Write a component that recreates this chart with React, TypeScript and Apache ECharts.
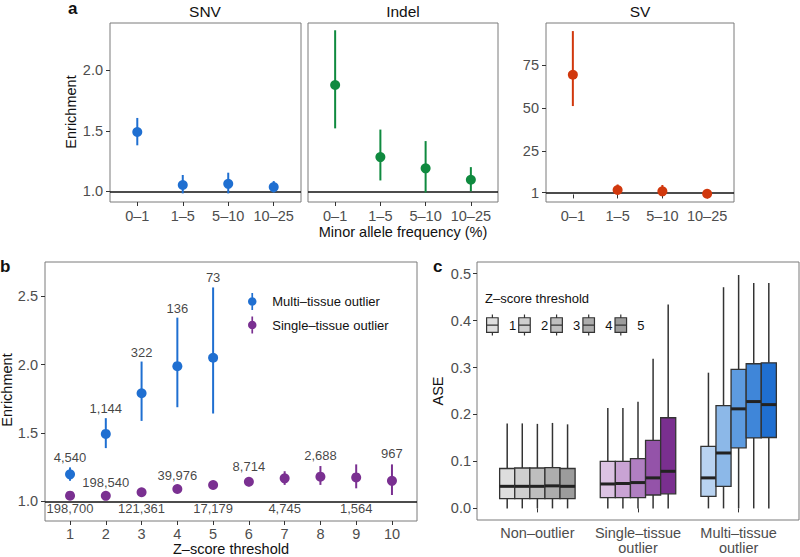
import React, { useEffect, useRef } from "react";
import * as echarts from "echarts";

// ---------- Panel a data ----------
const mafCats = ["0–1", "1–5", "5–10", "10–25"];
const snvEst = [1.49, 1.052, 1.062, 1.035];
const snvLo = [1.38, 0.983, 0.983, 0.99];
const snvHi = [1.606, 1.135, 1.154, 1.085];
const indelEst = [1.878, 1.283, 1.19, 1.096];
const indelLo = [1.52, 1.09, 0.99, 1.0];
const indelHi = [2.33, 1.51, 1.415, 1.2];
const svEst = [69.6, 2.6, 1.8, 0.4];
const svLo = [51.4, 0.8, 0.5, -0.3];
const svHi = [95, 5.8, 5.5, 1.0];
const aTicksLeft = [1.0, 1.5, 2.0];
const aTicksSV = [1, 25, 50, 75];

// ---------- Panel b data ----------
const zThresholds = [1, 2, 3, 4, 5, 6, 7, 8, 9, 10];
const multiX = [1, 2, 3, 4, 5];
const multiEst = [1.197, 1.493, 1.79, 1.988, 2.05];
const multiLo = [1.15, 1.389, 1.588, 1.688, 1.642];
const multiHi = [1.248, 1.608, 2.022, 2.343, 2.564];
const multiCounts = ["4,540", "1,144", "322", "136", "73"];
const singleEst = [1.041, 1.04, 1.066, 1.09, 1.119, 1.143, 1.168, 1.18, 1.175, 1.15];
const singleLo = [1.02, 1.02, 1.05, 1.07, 1.1, 1.11, 1.12, 1.12, 1.095, 1.046];
const singleHi = [1.06, 1.06, 1.085, 1.11, 1.14, 1.175, 1.22, 1.258, 1.27, 1.27];
const singleCounts = ["198,700", "198,540", "121,361", "39,976", "17,179", "8,714", "4,745", "2,688", "1,564", "967"];
const bTicksY = [1.0, 1.5, 2.0, 2.5];

// ---------- Panel c data ----------
const aseGroups = ["Non–outlier", "Single–tissue\noutlier", "Multi–tissue\noutlier"];
const aseThresholds = ["1", "2", "3", "4", "5"];
// each: [whiskerLow, q1, median, q3, whiskerHigh] for thresholds 1..5
const nonOutlierBoxes = [
  [0, 0.021, 0.047, 0.085, 0.181],
  [0, 0.021, 0.047, 0.086, 0.181],
  [0, 0.021, 0.047, 0.086, 0.18],
  [0, 0.021, 0.048, 0.087, 0.182],
  [0, 0.021, 0.047, 0.085, 0.179],
];
const singleTissueBoxes = [
  [0, 0.023, 0.052, 0.1, 0.214],
  [0, 0.023, 0.053, 0.1, 0.214],
  [0, 0.023, 0.055, 0.106, 0.227],
  [0, 0.0285, 0.065, 0.145, 0.3185],
  [0, 0.031, 0.079, 0.193, 0.434],
];
const multiTissueBoxes = [
  [0, 0.0256, 0.065, 0.132, 0.289],
  [0, 0.047, 0.118, 0.219, 0.471],
  [0, 0.129, 0.212, 0.296, 0.497],
  [0, 0.15, 0.2275, 0.308, 0.48],
  [0, 0.151, 0.221, 0.31, 0.48],
];
const cTicksY = [0, 0.1, 0.2, 0.3, 0.4, 0.5];

// ---------- styles ----------
const FONT = "Liberation Sans, Arial, Helvetica, sans-serif";
const BLUE = "#1f6fd1";
const GREEN = "#0f8a3f";
const RED = "#d1380d";
const PURPLE = "#7a3091";
const GREYS = ["#dedede", "#cfcfcf", "#bebebe", "#adadad", "#9c9c9c"];
const PURPLES = ["#dcc3e3", "#c9a3d4", "#b07fc1", "#9453a9", "#7a2f8f"];
const BLUES = ["#b9d3f1", "#8cb8e8", "#5d9be0", "#3f86d9", "#1f6fd1"];
const GROUP_COLORS = [GREYS, PURPLES, BLUES];
const TICK_COLOR = "#4d4d4d";
const BORDER = "#7a7a7a";

const POINTRANGE_ICON = "path://M4,0L6,0L6,20L4,20ZM10,10A5,5,0,1,1,0,10A5,5,0,1,1,10,10Z";
const BOX_ICON = "path://M5.5,0L5.5,3M0,3L11,3L11,17L0,17ZM0,10L11,10M5.5,17L5.5,20";

function errorSeries(xi: number, yi: number, xs: number[], lo: number[], hi: number[], color: string) {
  return {
    type: "custom",
    xAxisIndex: xi,
    yAxisIndex: yi,
    silent: true,
    data: xs.map((x, i) => [x, lo[i], hi[i]]),
    encode: { x: 0, y: [1, 2] },
    renderItem: (params: any, api: any) => {
      const a = api.coord([api.value(0), api.value(1)]);
      const b = api.coord([api.value(0), api.value(2)]);
      return {
        type: "line",
        shape: { x1: a[0], y1: a[1], x2: b[0], y2: b[1] },
        style: { stroke: color, lineWidth: 2 },
      };
    },
    z: 3,
  };
}

function pointSeries(name: string | undefined, xi: number, yi: number, xs: number[], ys: number[], color: string, hline: boolean) {
  const s: any = {
    type: "scatter",
    xAxisIndex: xi,
    yAxisIndex: yi,
    symbol: "circle",
    symbolSize: 10,
    itemStyle: { color, opacity: 1 },
    data: xs.map((x, i) => [x, ys[i]]),
    z: 4,
    silent: true,
  };
  if (name) s.name = name;
  if (hline) {
    s.markLine = {
      silent: true,
      symbol: ["none", "none"],
      label: { show: false },
      lineStyle: { color: "#111", width: 1.5, type: "solid" },
      data: [{ yAxis: 1 }],
      z: 2,
    };
  }
  return s;
}

function labelSeries(xi: number, yi: number, pts: number[][], texts: string[], position: string, distance: number) {
  return {
    type: "scatter",
    xAxisIndex: xi,
    yAxisIndex: yi,
    symbolSize: 0,
    silent: true,
    data: pts,
    label: {
      show: true,
      position,
      distance,
      formatter: (p: any) => texts[p.dataIndex],
      fontFamily: FONT,
      fontSize: 13,
      color: "#111",
    },
    z: 5,
  };
}

function boxSeries(k: number) {
  const groups = [nonOutlierBoxes, singleTissueBoxes, multiTissueBoxes];
  return {
    type: "custom",
    name: aseThresholds[k],
    xAxisIndex: 4,
    yAxisIndex: 4,
    silent: true,
    itemStyle: { color: GREYS[k] },
    data: groups.map((g, gi) => [gi + 1, ...g[k]]),
    encode: { x: 0, y: [1, 2, 3, 4, 5] },
    renderItem: (params: any, api: any) => {
      const gi = api.value(0) - 1;
      const x = api.value(0) + (k - 2) * 0.15;
      const w = api.size([0.15, 0])[0];
      const pLo = api.coord([x, api.value(1)]);
      const pQ1 = api.coord([x, api.value(2)]);
      const pMed = api.coord([x, api.value(3)]);
      const pQ3 = api.coord([x, api.value(4)]);
      const pHi = api.coord([x, api.value(5)]);
      const cx = pQ1[0];
      const left = cx - w / 2;
      const stroke = "#333333";
      return {
        type: "group",
        children: [
          { type: "line", shape: { x1: cx, y1: pLo[1], x2: cx, y2: pQ1[1] }, style: { stroke, lineWidth: 1.5 } },
          { type: "line", shape: { x1: cx, y1: pQ3[1], x2: cx, y2: pHi[1] }, style: { stroke, lineWidth: 1.5 } },
          {
            type: "rect",
            shape: { x: left, y: pQ3[1], width: w, height: pQ1[1] - pQ3[1] },
            style: { fill: GROUP_COLORS[gi][k], stroke, lineWidth: 1.3 },
          },
          { type: "line", shape: { x1: left, y1: pMed[1], x2: left + w, y2: pMed[1] }, style: { stroke: "#222", lineWidth: 3 } },
        ],
      };
    },
    z: 3,
  };
}

const tickLabel = (extra: any = {}) => ({
  fontFamily: FONT,
  fontSize: 14.5,
  color: TICK_COLOR,
  ...extra,
});

function text(t: string, x: number, y: number, size: number, extra: any = {}) {
  return {
    type: "text",
    x,
    y,
    silent: true,
    ...extra,
    style: {
      text: t,
      fontFamily: FONT,
      fontSize: size,
      fill: "#111",
      textAlign: "center",
      textVerticalAlign: "middle",
      ...(extra.style || {}),
    },
  };
}

export default function App() {
  const ref = useRef<HTMLDivElement>(null);

  useEffect(() => {
    if (!ref.current) return;
    const chart = echarts.init(ref.current, undefined, { renderer: "svg" });
    const idx = mafCats.map((_, i) => i + 1);

    const gridBase = { show: true, borderColor: BORDER, borderWidth: 1, backgroundColor: "transparent", containLabel: false };
    const grids = [
      { ...gridBase, left: 110, top: 23, width: 191, height: 179 },
      { ...gridBase, left: 308, top: 23, width: 190, height: 179 },
      { ...gridBase, left: 546, top: 23, width: 188, height: 179 },
      { ...gridBase, left: 45, top: 262, width: 372, height: 259 },
      { ...gridBase, left: 477, top: 262, width: 322, height: 258 },
    ];

    const mafX = (gi: number) => ({
      type: "value",
      gridIndex: gi,
      min: 0.4,
      max: 4.6,
      axisLine: { show: false },
      splitLine: { show: false },
      axisTick: { show: true, length: 4, lineStyle: { color: "#333" }, customValues: idx },
      axisLabel: tickLabel({ margin: 6, customValues: idx, formatter: (v: number) => mafCats[Math.round(v) - 1] ?? "" }),
    });

    const option: any = {
      animation: false,
      textStyle: { fontFamily: FONT },
      grid: grids,
      xAxis: [
        mafX(0),
        mafX(1),
        mafX(2),
        {
          type: "value",
          gridIndex: 3,
          min: 0.3,
          max: 10.7,
          axisLine: { show: false },
          splitLine: { show: false },
          axisTick: { show: true, length: 4, lineStyle: { color: "#333" }, customValues: zThresholds },
          axisLabel: tickLabel({ margin: 5, customValues: zThresholds, formatter: (v: number) => String(v) }),
        },
        {
          type: "value",
          gridIndex: 4,
          min: 0.4,
          max: 3.6,
          axisLine: { show: false },
          splitLine: { show: false },
          axisTick: { show: true, length: 4, lineStyle: { color: "#333" }, customValues: [1, 2, 3] },
          axisLabel: tickLabel({
            margin: 5,
            lineHeight: 15.5,
            customValues: [1, 2, 3],
            formatter: (v: number) => aseGroups[Math.round(v) - 1] ?? "",
          }),
        },
      ],
      yAxis: [
        {
          type: "value",
          gridIndex: 0,
          min: 0.912,
          max: 2.39,
          axisLine: { show: false },
          splitLine: { show: false },
          axisTick: { show: true, length: 4, lineStyle: { color: "#333" }, customValues: aTicksLeft },
          axisLabel: tickLabel({ margin: 7, customValues: aTicksLeft, formatter: (v: number) => v.toFixed(1) }),
        },
        {
          type: "value",
          gridIndex: 1,
          min: 0.912,
          max: 2.39,
          axisLine: { show: false },
          splitLine: { show: false },
          axisTick: { show: false },
          axisLabel: { show: false },
        },
        {
          type: "value",
          gridIndex: 2,
          min: -4.4,
          max: 99.7,
          axisLine: { show: false },
          splitLine: { show: false },
          axisTick: { show: true, length: 4, lineStyle: { color: "#333" }, customValues: aTicksSV },
          axisLabel: tickLabel({ margin: 7, customValues: aTicksSV, formatter: (v: number) => String(v) }),
        },
        {
          type: "value",
          gridIndex: 3,
          min: 0.856,
          max: 2.75,
          axisLine: { show: false },
          splitLine: { show: false },
          axisTick: { show: true, length: 4, lineStyle: { color: "#333" }, customValues: bTicksY },
          axisLabel: tickLabel({ margin: 7, customValues: bTicksY, formatter: (v: number) => v.toFixed(1) }),
        },
        {
          type: "value",
          gridIndex: 4,
          min: -0.0247,
          max: 0.5247,
          axisLine: { show: false },
          splitLine: { show: false },
          axisTick: { show: true, length: 4, lineStyle: { color: "#333" }, customValues: cTicksY },
          axisLabel: tickLabel({ margin: 6, customValues: cTicksY, formatter: (v: number) => v.toFixed(1) }),
        },
      ],
      legend: [
        {
          orient: "vertical",
          left: 243,
          top: 288,
          itemWidth: 30,
          itemHeight: 17,
          itemGap: 6.5,
          selectedMode: false,
          textStyle: { fontFamily: FONT, fontSize: 13, color: "#111" },
          data: [
            { name: "Multi–tissue outlier", icon: POINTRANGE_ICON, itemStyle: { color: BLUE } },
            { name: "Single–tissue outlier", icon: POINTRANGE_ICON, itemStyle: { color: PURPLE } },
          ],
        },
        {
          orient: "horizontal",
          left: 481,
          top: 309,
          itemWidth: 23,
          itemHeight: 21,
          itemGap: 2,
          selectedMode: false,
          textStyle: { fontFamily: FONT, fontSize: 13, color: "#111" },
          data: aseThresholds.map((t, k) => ({
            name: t,
            icon: BOX_ICON,
            itemStyle: { color: GREYS[k], borderColor: "#333", borderWidth: 1.2 },
          })),
        },
      ],
      series: [
        // panel a
        errorSeries(0, 0, idx, snvLo, snvHi, BLUE),
        pointSeries(undefined, 0, 0, idx, snvEst, BLUE, true),
        errorSeries(1, 1, idx, indelLo, indelHi, GREEN),
        pointSeries(undefined, 1, 1, idx, indelEst, GREEN, true),
        errorSeries(2, 2, idx, svLo, svHi, RED),
        pointSeries(undefined, 2, 2, idx, svEst, RED, true),
        // panel b
        errorSeries(3, 3, multiX, multiLo, multiHi, BLUE),
        pointSeries("Multi–tissue outlier", 3, 3, multiX, multiEst, BLUE, false),
        errorSeries(3, 3, zThresholds, singleLo, singleHi, PURPLE),
        pointSeries("Single–tissue outlier", 3, 3, zThresholds, singleEst, PURPLE, true),
        labelSeries(3, 3, multiX.map((x, i) => [x, multiHi[i]]), multiCounts, "top", 3),
        labelSeries(
          3,
          3,
          zThresholds.filter((_, i) => i % 2 === 1).map((x) => [x, singleHi[x - 1]]),
          singleCounts.filter((_, i) => i % 2 === 1),
          "top",
          4
        ),
        labelSeries(
          3,
          3,
          zThresholds.filter((_, i) => i % 2 === 0).map((x) => [x, 1]),
          singleCounts.filter((_, i) => i % 2 === 0),
          "bottom",
          1
        ),
        // panel c
        ...aseThresholds.map((_, k) => boxSeries(k)),
      ],
      graphic: [
        text("a", 68, 8, 17, { style: { fontWeight: "bold", textAlign: "left" } }),
        text("b", 0, 266, 17, { style: { fontWeight: "bold", textAlign: "left" } }),
        text("c", 433, 266, 17, { style: { fontWeight: "bold", textAlign: "left" } }),
        text("SNV", 205, 11, 15.5),
        text("Indel", 403, 11, 15.5),
        text("SV", 640, 11, 15.5),
        text("Enrichment", 71, 112, 14.5, { rotation: Math.PI / 2 }),
        text("Minor allele frequency (%)", 403, 232, 14.5),
        text("Enrichment", 7, 390, 14.5, { rotation: Math.PI / 2 }),
        text("Z–score threshold", 231, 549, 14.5),
        text("ASE", 438, 391, 14.5, { rotation: Math.PI / 2 }),
        text("Z–score threshold", 485, 298, 13, { style: { textAlign: "left" } }),
      ],
    };

    chart.setOption(option);
    return () => chart.dispose();
  }, []);

  return (
    <div
      ref={ref}
      style={{ position: "absolute", left: 0, top: 0, width: 800, height: 557, background: "#fff" }}
    />
  );
}
